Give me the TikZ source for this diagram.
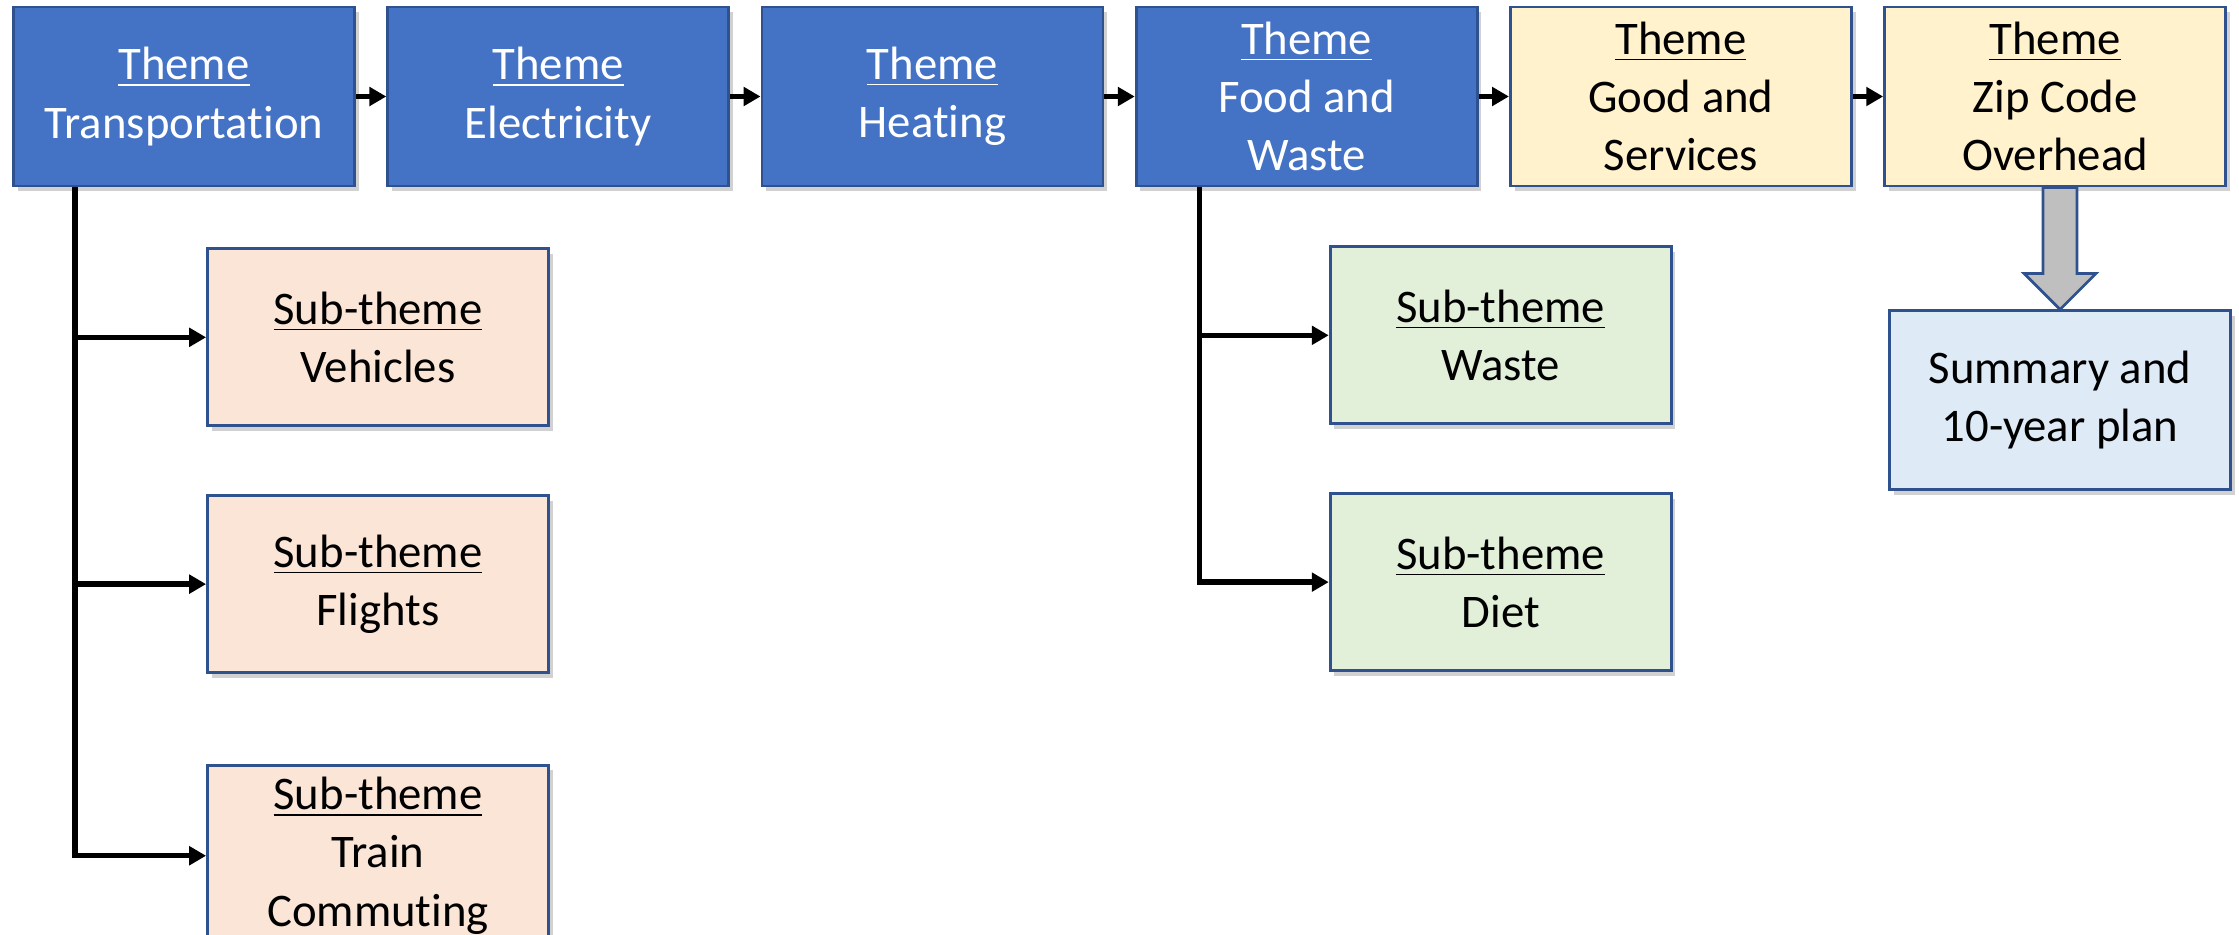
\documentclass[tikz,border=0pt]{standalone}
\usepackage{fontspec}
\setmainfont{Carlito}[Ligatures=NoCommon]
\usepackage{tikz}
\usetikzlibrary{positioning,arrows.meta,shadows,calc}
\definecolor{themeblue}{RGB}{68,114,196}
\definecolor{edgeblue}{RGB}{47,82,143}
\definecolor{themeyellow}{RGB}{255,242,204}
\definecolor{subpeach}{RGB}{251,229,214}
\definecolor{subgreen}{RGB}{226,240,217}
\definecolor{summblue}{RGB}{222,235,247}
\definecolor{arrowgray}{RGB}{191,191,191}

\begin{document}
\begin{tikzpicture}[
  node distance=0.304cm,
  box/.style={rectangle, draw=edgeblue, line width=0.8pt, align=center, minimum width=3.41cm, minimum height=1.79cm, font=\fontsize{13.3pt}{16.6pt}\selectfont, drop shadow={shadow xshift=1.2pt, shadow yshift=-1.4pt, fill=black!60, opacity=0.3}},
  theme/.style={box, fill=themeblue, text=white},
  later/.style={box, fill=themeyellow},
  sub/.style={box, minimum height=1.77cm, fill=subpeach},
  subg/.style={box, minimum height=1.77cm, fill=subgreen},
  summary/.style={box, fill=summblue},
  arrow/.style={-{Triangle[length=4.8pt,width=5.2pt]}, line width=1.5pt},
  bigarrow/.style={draw=edgeblue, line width=0.8pt, fill=arrowgray}
]
  \useasboundingbox (0,0) rectangle (22.39,-9.35);

  % Themes
  \node[theme] (trans) at (1.84,-0.965) {\underline{Theme}\\Transportation};
  \node[theme, right=of trans] (elec) {\underline{Theme}\\Electricity};
  \node[theme, right=of elec] (heat) {\underline{Theme}\\Heating};
  \node[theme, right=of heat] (food) {\underline{Theme}\\Food and\\Waste};
  \node[later, right=of food] (goods) {\underline{Theme}\\Good and\\Services};
  \node[later, right=of goods] (zip) {\underline{Theme}\\Zip Code\\Overhead};

  % Sub-themes of transportation
  \node[sub, below right=0.6cm and 1.94cm of trans.south west] (veh) {\underline{Sub-theme}\\Vehicles};
  \node[sub, below=0.67cm of veh] (flights) {\underline{Sub-theme}\\Flights};
  \node[sub, below=0.9cm of flights] (train) {\underline{Sub-theme}\\Train\\Commuting};

  % Sub-themes of food and waste
  \node[subg, below right=0.58cm and 1.94cm of food.south west] (waste) {\underline{Sub-theme}\\Waste};
  \node[subg, below=0.67cm of waste] (diet) {\underline{Sub-theme}\\Diet};

  % Summary
  \node[summary, below=1.22cm of zip, xshift=0.05cm] (summ) {Summary and\\10-year plan};

  % Arrows
  \draw[arrow] (trans) -- (elec);
  \draw[arrow] (elec) -- (heat);
  \draw[arrow] (heat) -- (food);
  \draw[arrow] (food) -- (goods);
  \draw[arrow] (goods) -- (zip);

  \coordinate (tstem) at ([xshift=0.63cm]trans.south west);
  \draw[arrow] (tstem) |- (train);
  \draw[arrow] (tstem |- veh) -- (veh);
  \draw[arrow] (tstem |- flights) -- (flights);

  \coordinate (fstem) at ([xshift=0.65cm]food.south west);
  \draw[arrow] (fstem) |- (diet);
  \draw[arrow] (fstem |- waste) -- (waste);

  % Block arrow to summary
  \coordinate (atop) at (summ.north |- zip.south);
  \draw[bigarrow] ([xshift=-0.17cm]atop) -- ([xshift=-0.17cm,yshift=0.36cm]summ.north)
    -- ([xshift=-0.36cm,yshift=0.36cm]summ.north) -- (summ.north)
    -- ([xshift=0.36cm,yshift=0.36cm]summ.north) -- ([xshift=0.17cm,yshift=0.36cm]summ.north)
    -- ([xshift=0.17cm]atop) -- cycle;

\end{tikzpicture}
\end{document}
